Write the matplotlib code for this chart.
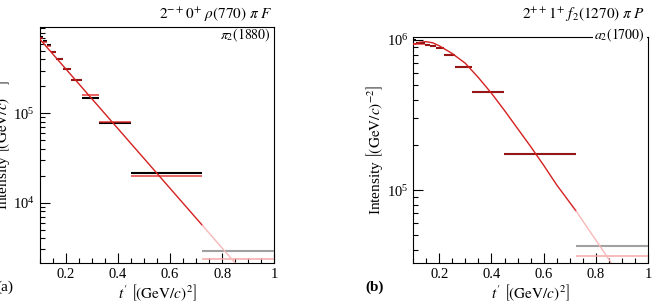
import matplotlib.pyplot as plt
from matplotlib.ticker import LogLocator, MultipleLocator, NullFormatter, FixedLocator

plt.rcParams['font.family'] = ['Liberation Serif', 'DejaVu Serif']
plt.rcParams['mathtext.fontset'] = 'stix'

# t' bin edges in (GeV/c)^2
t_edges = [0.100, 0.113, 0.127, 0.144, 0.164, 0.189, 0.220, 0.262, 0.326, 0.449, 0.724, 1.000]

# (a) 2-+0+ rho(770) pi F  -- data (black) and model (red) per t' bin
a_data = [7.1e5, 6.4e5, 5.8e5, 4.9e5, 4.1e5, 3.1e5, 2.36e5, 1.47e5, 7.8e4, 2.17e4, 2.9e3]
a_model = [7.0e5, 6.3e5, 5.7e5, 4.85e5, 4.05e5, 3.1e5, 2.38e5, 1.6e5, 7.9e4, 2.0e4, 2.35e3]
a_curve_t = [0.100, 0.724, 0.860]
a_curve_y = [6.8e5, 5.57e3, 1.95e3]

# (b) 2++1+ f2(1270) pi P
b_data = [1.0e6, 9.5e5, 9.5e5, 9.3e5, 9.1e5, 8.8e5, 8.0e5, 6.6e5, 4.5e5, 1.74e5, 4.25e4]
b_model = [9.4e5, 9.4e5, 9.4e5, 9.3e5, 9.1e5, 8.8e5, 8.0e5, 6.6e5, 4.5e5, 1.74e5, 3.63e4]
b_curve_t = [0.100, 0.125, 0.150, 0.175, 0.200, 0.250, 0.300, 0.350, 0.400, 0.450,
             0.500, 0.550, 0.600, 0.650, 0.724, 0.800, 0.860]
b_curve_y = [9.33e5, 9.66e5, 9.75e5, 9.59e5, 9.16e5, 8.13e5, 7.0e5, 5.62e5, 4.42e5, 3.39e5,
             2.57e5, 1.95e5, 1.46e5, 1.08e5, 7.24e4, 4.62e4, 3.24e4]

t_fit_max = 0.724

fig = plt.figure(figsize=(6.53, 3.04), dpi=100)
ax_a = fig.add_axes([0.0606, 0.1339, 0.3597, 0.7763])
ax_b = fig.add_axes([0.6325, 0.1339, 0.3603, 0.7428])


def draw_panel(ax, data, model, curve_t, curve_y, ylim):
    n_fit = sum(1 for e in t_edges[1:] if e <= t_fit_max + 1e-9)
    for i in range(len(data)):
        lo, hi = t_edges[i], t_edges[i + 1]
        if i < n_fit:
            ax.hlines(data[i], lo, hi, color='black', lw=1.5, zorder=3)
            ax.hlines(model[i], lo, hi, color='#e02020', lw=1.3, alpha=0.75, zorder=4)
        else:
            ax.hlines(data[i], lo, hi, color='#a0a0a0', lw=1.5, zorder=3)
            ax.hlines(model[i], lo, hi, color='#f5a8a8', lw=1.1, zorder=4)
    # fit curve: solid inside the fit range, faded beyond
    in_t = [t for t in curve_t if t <= t_fit_max]
    in_y = curve_y[:len(in_t)]
    ax.plot(in_t, in_y, color='#d42020', lw=1.0, zorder=5)
    ax.plot(curve_t[len(in_t) - 1:], curve_y[len(in_t) - 1:], color='#f7b8b8', lw=1.0, zorder=5)

    ax.set_yscale('log')
    ax.set_xlim(0.1, 1.0)
    ax.set_ylim(*ylim)
    ax.xaxis.set_major_locator(FixedLocator([0.2, 0.4, 0.6, 0.8, 1.0]))
    ax.set_xticklabels(['0.2', '0.4', '0.6', '0.8', '1'])
    ax.xaxis.set_minor_locator(MultipleLocator(0.05))
    ax.yaxis.set_major_locator(LogLocator(base=10))
    ax.yaxis.set_minor_locator(LogLocator(base=10, subs=range(2, 10)))
    ax.yaxis.set_minor_formatter(NullFormatter())
    ax.tick_params(which='both', direction='in', top=False, right=False, labelsize=10.5)
    ax.tick_params(which='major', length=7, width=0.8)
    ax.tick_params(which='minor', length=3.5, width=0.8)
    for s in ax.spines.values():
        s.set_linewidth(0.8)
    ax.set_xlabel(r"$t^{\prime}\ \left[(\mathrm{GeV}/c)^{2}\right]$", fontsize=11, labelpad=1)
    ax.set_ylabel(r"Intensity $\left[(\mathrm{GeV}/c)^{-2}\right]$", fontsize=11, labelpad=1)


draw_panel(ax_a, a_data, a_model, a_curve_t, a_curve_y, (2.1e3, 9.16e5))
draw_panel(ax_b, b_data, b_model, b_curve_t, b_curve_y, (3.25e4, 1.04e6))

fig.text(0.4165, 0.951, r"$2^{-+}0^{+}\ \rho(770)\ \pi\ F$", ha='right', va='center', fontsize=11)
fig.text(0.415, 0.885, r"$\pi_{2}(1880)$", ha='right', va='center', fontsize=10)
fig.text(0.988, 0.951, r"$2^{++}1^{+}\ f_{2}(1270)\ \pi\ P$", ha='right', va='center', fontsize=11)
fig.text(0.988, 0.885, r"$a_{2}(1700)$", ha='right', va='center', fontsize=10, zorder=10,
         bbox=dict(facecolor='white', edgecolor='none', pad=1.0))
fig.text(-0.006, 0.056, "(a)", ha='left', va='center', fontsize=11)
fig.text(0.559, 0.056, "(b)", ha='left', va='center', fontsize=11, fontweight='bold')

fig.savefig('out.png', dpi=100)
